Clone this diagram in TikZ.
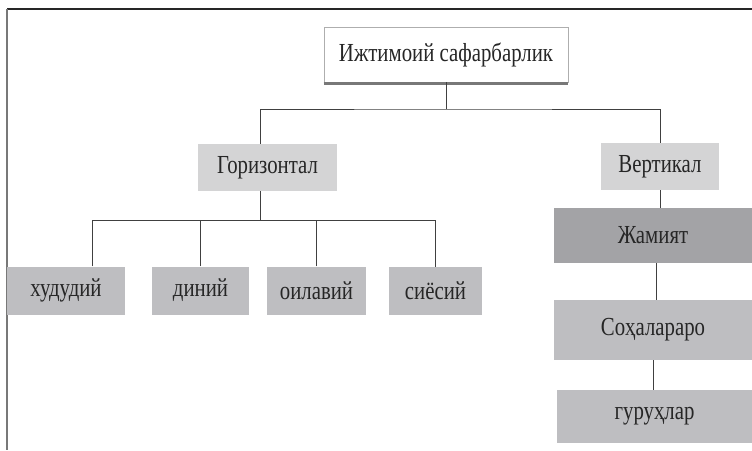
\documentclass[tikz,border=0pt]{standalone}
\usepackage{fontspec}
\setmainfont{Liberation Serif}[FakeStretch=0.8]
\usepackage{tikz,xcolor}
\definecolor{svetlo}{RGB}{212,212,213}
\definecolor{sredne}{RGB}{190,190,193}
\definecolor{temno}{RGB}{163,163,166}
\definecolor{ramka}{RGB}{120,120,120}

\begin{document}
\begin{tikzpicture}[x=1pt,y=-1pt,
    box/.style={inner sep=0pt,font=\fontsize{26}{29}\selectfont,text=black!85},
    topbox/.style={box,draw=ramka!60,fill=white,line width=0.8pt},
    lightbox/.style={box,fill=svetlo},
    midbox/.style={box,fill=sredne},
    darkbox/.style={box,fill=temno},
    wire/.style={draw=black!75,line width=0.8pt}]
        \useasboundingbox (0,0) rectangle (752,450);
        \draw[black!85,line width=1.4pt] (7,9) -- (752,9);
        \draw[ramka,line width=2pt] (7,9) -- (7,450);
        \node[topbox,minimum width=244,minimum height=55] (soc) at (446,54.5) {Ижтимоий сафарбарлик};
        \draw[ramka,line width=2.4pt] ([yshift=-1pt]soc.south west) -- ([yshift=-1pt]soc.south east);
        \node[lightbox,minimum width=139,minimum height=47] (hor) at (267.5,167.5) {Горизонтал};
        \node[lightbox,minimum width=118,minimum height=47] (ver) at (660,166.5) {Вертикал};
        \node[midbox,minimum width=118,minimum height=48] (hud) at (66,290.5) {худудий};
        \node[midbox,minimum width=97,minimum height=48] (din) at (200.5,290.5) {диний};
        \node[midbox,minimum width=99,minimum height=48] (oil) at (316.5,290.5) {оилавий};
        \node[midbox,minimum width=93,minimum height=48] (sie) at (435.5,291) {сиёсий};
        \node[darkbox,minimum width=198,minimum height=55] (jam) at (653,235.5) {Жамият};
        \node[midbox,minimum width=198,minimum height=60] (soh) at (653,330) {Соҳалараро};
        \node[midbox,minimum width=195,minimum height=53] (gur) at (654.5,416.5) {гуруҳлар};
        \coordinate (tbus) at (446,109);
        \coordinate (hbus) at (92,220);
        \draw[wire] (soc.south) -- (tbus);
        \draw[wire] ([xshift=-7pt]hor.north) |- (tbus) -| (ver.north);
        \draw[wire] ([xshift=-7pt]hor.south) -- ([xshift=-7pt]hor.south |- hbus);
        \draw[wire] (hud.north -| hbus) -- (hbus) -- (hbus -| sie.north) -- (sie.north);
        \draw[wire] (din.north) -- (din.north |- hbus);
        \draw[wire] (oil.north) -- (oil.north |- hbus);
        \draw[wire] (ver.south) -- (ver.south |- jam.north);
        \draw[wire] ([xshift=3pt]jam.south) -- ([xshift=3pt]soh.north);
        \draw[wire] (soh.south) -- (gur.north -| soh.south);
\end{tikzpicture}
\end{document}
